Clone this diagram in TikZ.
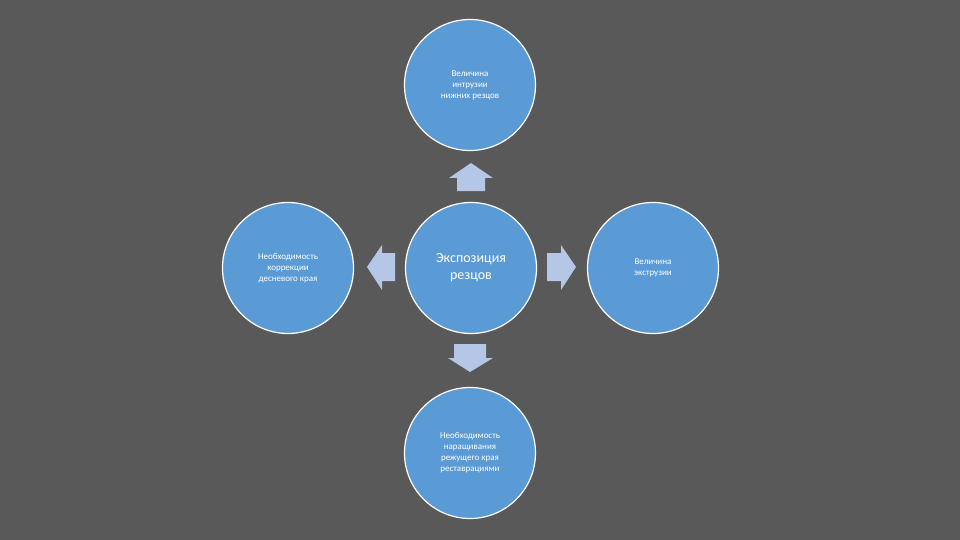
\documentclass[tikz,border=0pt]{standalone}
\usepackage{fontspec}
\setmainfont{Carlito}
\begin{document}
\begin{tikzpicture}[x=1pt,y=-1pt,
  circ/.style={circle,fill=cblue,draw=white,line width=1.2pt,minimum size=131pt,inner sep=0pt,align=center,text=white,font=\fontsize{9}{11}\selectfont},
  arr/.style={fill=ablue,draw=none}]
\definecolor{bg}{HTML}{595959}
\definecolor{cblue}{HTML}{5B9BD5}
\definecolor{ablue}{HTML}{B4C7E7}
\fill[bg] (0,0) rectangle (960,540);
\useasboundingbox (0,0) rectangle (960,540);
\node[circ,font=\fontsize{14}{17}\selectfont] (c) at (471,268) {Экспозиция\\резцов};
\node[circ] (t) at (470,85) {Величина\\интрузии\\нижних резцов};
\node[circ] (l) at (288,268) {Необходимость\\коррекции\\десневого края};
\node[circ] (r) at (653,268) {Величина\\экструзии};
\node[circ] (b) at (470,453) {Необходимость\\наращивания\\режущего края\\реставрациями};
\fill[arr] (471,163) -- (493,178) -- (485,178) -- (485,191) -- (457,191) -- (457,178) -- (449,178) -- cycle;
\fill[arr] (470,372) -- (493,358) -- (486,358) -- (486,344) -- (454,344) -- (454,358) -- (448,358) -- cycle;
\fill[arr] (367,267) -- (382,245) -- (382,253) -- (395,253) -- (395,281) -- (382,281) -- (382,290) -- cycle;
\fill[arr] (576,267) -- (561,245) -- (561,253) -- (547,253) -- (547,281) -- (561,281) -- (561,290) -- cycle;
\end{tikzpicture}
\end{document}
